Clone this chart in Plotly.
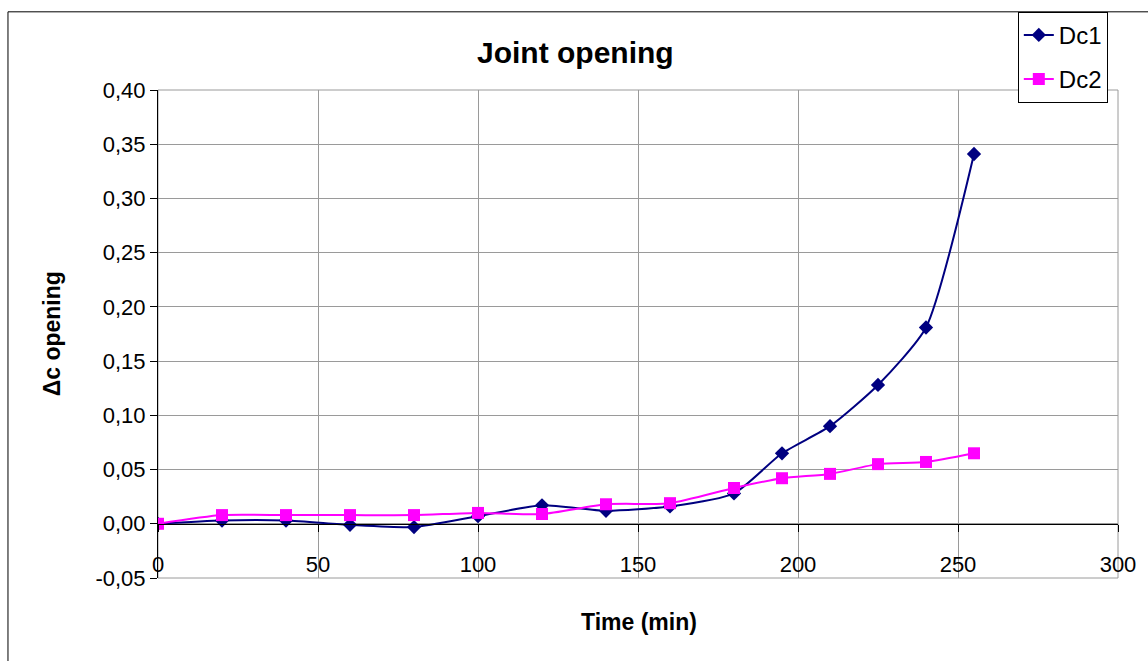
import plotly.graph_objects as go

time_min = [0, 20, 40, 60, 80, 100, 120, 140, 160, 180, 195, 210, 225, 240, 255]
dc1 = [0.000, 0.003, 0.003, -0.001, -0.003, 0.007, 0.017, 0.012, 0.016, 0.028, 0.065, 0.090, 0.128, 0.181, 0.341]
dc2 = [0.000, 0.008, 0.008, 0.008, 0.008, 0.010, 0.009, 0.018, 0.019, 0.033, 0.042, 0.046, 0.055, 0.057, 0.065]

x_ticks = [0, 50, 100, 150, 200, 250, 300]
y_ticks = [-0.05, 0.00, 0.05, 0.10, 0.15, 0.20, 0.25, 0.30, 0.35, 0.40]
y_ticktext = [f"{v:.2f}".replace(".", ",") for v in y_ticks]

FONT = "Liberation Sans, Arial, sans-serif"

fig = go.Figure()
fig.add_trace(go.Scatter(
    x=time_min, y=dc1, name="Dc1", mode="lines+markers", legendgroup="a",
    line=dict(color="#000080", width=2, shape="spline", smoothing=0.6),
    marker=dict(symbol="diamond", size=11, color="#000080"),
))
fig.add_trace(go.Scatter(
    x=time_min, y=dc2, name="Dc2", mode="lines+markers", legendgroup="b",
    line=dict(color="#FF00FF", width=2, shape="spline", smoothing=0.6),
    marker=dict(symbol="square", size=12, color="#FF00FF"),
))

L, R, T, B = 158, 27, 88, 83
W, H = 1148, 661
pw, ph = W - L - R, H - T - B

def px2paper_x(px):
    return (px - L) / pw

def py2paper_y(py):
    return (H - B - py) / ph

fig.update_layout(
    width=W, height=H,
    margin=dict(l=L, r=R, t=T, b=B, pad=0),
    paper_bgcolor="white", plot_bgcolor="white",
    font=dict(family=FONT, size=22, color="black"),
    showlegend=True,
    legend=dict(
        x=px2paper_x(1020.5), y=py2paper_y(9.5), xanchor="left", yanchor="top",
        bordercolor="black", borderwidth=1, bgcolor="white",
        font=dict(size=24, family=FONT), tracegroupgap=10,
    ),
    xaxis=dict(
        range=[0, 300], tickvals=x_ticks, ticktext=[str(v) for v in x_ticks],
        showgrid=True, gridcolor="#9a9a9a", gridwidth=1,
        showline=True, linecolor="black", linewidth=1,
        ticks="outside", ticklen=7, tickcolor="black",
        anchor="free", position=0.05 / 0.45,
        ticklabelstandoff=14, zeroline=False,
        tickfont=dict(size=22),
    ),
    yaxis=dict(
        range=[-0.05, 0.40], tickvals=y_ticks, ticktext=y_ticktext,
        showgrid=True, gridcolor="#9a9a9a", gridwidth=1,
        showline=True, linecolor="black", linewidth=1,
        ticks="outside", ticklen=7, tickcolor="black",
        zeroline=False, tickfont=dict(size=22),
    ),
    shapes=[
        dict(type="rect", xref="paper", yref="paper", x0=0, x1=1, y0=0, y1=1,
             line=dict(color="#9a9a9a", width=1), layer="below"),
        dict(type="rect", xref="paper", yref="paper",
             x0=px2paper_x(7.5), x1=px2paper_x(1160), y0=py2paper_y(9.5), y1=py2paper_y(680),
             line=dict(color="black", width=1), layer="above"),
    ],
    annotations=[
        dict(text="<b>Joint opening</b>", xref="paper", yref="paper",
             x=px2paper_x(577), y=py2paper_y(50), xanchor="center", yanchor="middle",
             showarrow=False, font=dict(size=30, family=FONT)),
        dict(text="<b>Time (min)</b>", xref="paper", yref="paper",
             x=px2paper_x(641), y=py2paper_y(622), xanchor="center", yanchor="middle",
             showarrow=False, font=dict(size=23, family=FONT)),
        dict(text="<b>Δc opening</b>", xref="paper", yref="paper",
             x=px2paper_x(52), y=py2paper_y(333), xanchor="center", yanchor="middle",
             textangle=-90, showarrow=False, font=dict(size=23, family=FONT)),
    ],
)

fig.write_html("out.html", config={"displayModeBar": False},
               post_script="document.body.style.margin='0';")
